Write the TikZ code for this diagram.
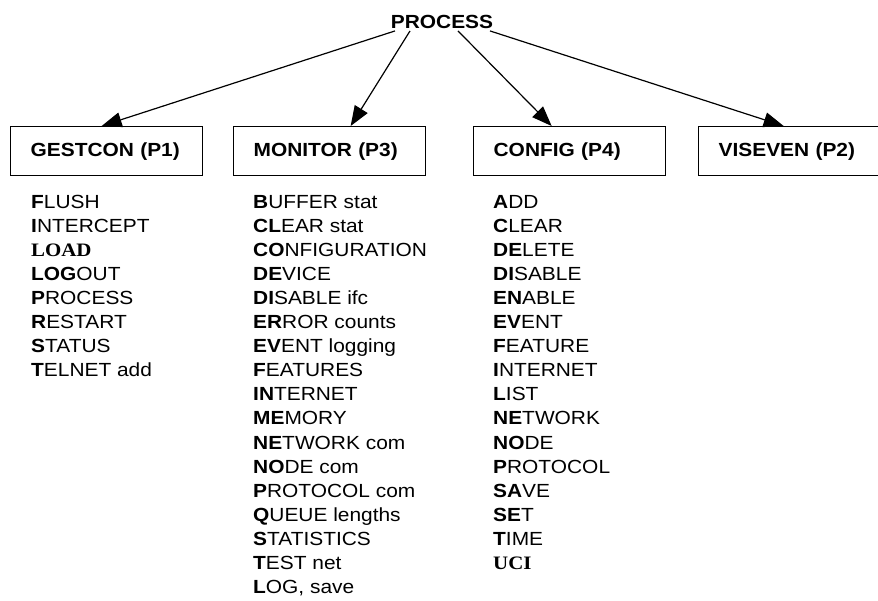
\documentclass[tikz,border=0pt]{standalone}
\usepackage{fontspec}
\setmainfont{Liberation Sans}[FakeStretch=1.1]
\newfontfamily\serifbf{Liberation Serif}[FakeStretch=1.1]
\usetikzlibrary{arrows.meta}

\tikzset{
  txt/.style={font=\fontsize{19}{22}\selectfont, inner sep=0pt},
  modbox/.style={draw, line width=1.3pt, anchor=north west,
    minimum width=192pt, minimum height=49pt, text width=152pt,
    inner xsep=20pt, inner ysep=0pt, align=left,
    font=\fontsize{19}{22}\selectfont\bfseries},
  item/.style={txt, anchor=base west},
  link/.style={line width=1.2pt,
    -{Triangle[length=20pt,width=15pt]}},
}

\begin{document}
\begin{tikzpicture}[x=1pt, y=-1pt]
  \useasboundingbox (0,0) rectangle (878,600);

  % root
  \node[txt, font=\fontsize{19}{22}\selectfont\bfseries] (proc) at (442,22) {PROCESS};

  % module boxes
  \node[modbox] (gest) at (10,126)  {GESTCON (P1)};
  \node[modbox] (mon)  at (233,126) {MONITOR (P3)};
  \node[modbox] (conf) at (473,126) {CONFIG (P4)};
  \node[modbox] (vis)  at (698,126) {VISEVEN (P2)};

  % connectors
  \draw[link] ([xshift=-47pt,yshift=-2pt]proc.south) -- ([xshift=-5pt]gest.north);
  \draw[link] ([xshift=-32pt,yshift=-2pt]proc.south) -- ([xshift=21pt]mon.north);
  \draw[link] ([xshift=16pt,yshift=-2pt]proc.south)  -- ([xshift=-18pt]conf.north);
  \draw[link] ([xshift=48pt,yshift=-2pt]proc.south)  -- ([xshift=-11pt]vis.north);

  % GESTCON commands
  \foreach \t [count=\i from 0] in {
      {\textbf{F}LUSH},{\textbf{I}NTERCEPT},{\serifbf\bfseries LOAD},
      {\textbf{LOG}OUT},{\textbf{P}ROCESS},{\textbf{R}ESTART},
      {\textbf{S}TATUS},{\textbf{T}ELNET add}}
    \node[item] (g\i) at (31,208+24.1*\i) {\t};

  % MONITOR commands
  \foreach \t [count=\i from 0] in {
      {\textbf{B}UFFER stat},{\textbf{CL}EAR stat},{\textbf{CO}NFIGURATION},
      {\textbf{DE}VICE},{\textbf{DI}SABLE ifc},{\textbf{ER}ROR counts},
      {\textbf{EV}ENT logging},{\textbf{F}EATURES},{\textbf{IN}TERNET},
      {\textbf{ME}MORY},{\textbf{NE}TWORK com},{\textbf{NO}DE com},
      {\textbf{P}ROTOCOL com},{\textbf{Q}UEUE lengths},{\textbf{S}TATISTICS},
      {\textbf{T}EST net},{\textbf{L}OG, save}}
    \node[item] (m\i) at (253,208+24.1*\i) {\t};

  % CONFIG commands
  \foreach \t [count=\i from 0] in {
      {\textbf{A}DD},{\textbf{C}LEAR},{\textbf{DE}LETE},{\textbf{DI}SABLE},
      {\textbf{EN}ABLE},{\textbf{EV}ENT},{\textbf{F}EATURE},{\textbf{I}NTERNET},
      {\textbf{L}IST},{\textbf{NE}TWORK},{\textbf{NO}DE},{\textbf{P}ROTOCOL},
      {\textbf{SA}VE},{\textbf{SE}T},{\textbf{T}IME},{\serifbf\bfseries UCI}}
    \node[item] (c\i) at (493,208+24.1*\i) {\t};
\end{tikzpicture}
\end{document}
